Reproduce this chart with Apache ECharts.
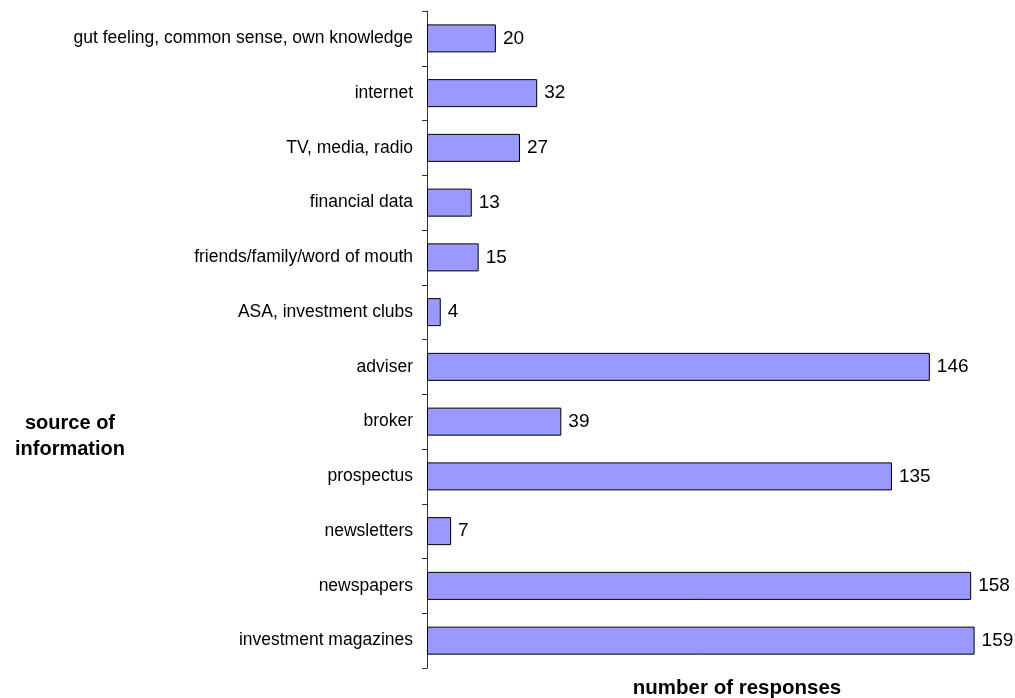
<!DOCTYPE html>
<html>
<head>
<meta charset="utf-8">
<script src="https://cdn.jsdelivr.net/npm/echarts@6/dist/echarts.min.js"></script>
<style>
html,body{margin:0;padding:0;background:#fff;}
#chart{width:1015px;height:698px;}
</style>
</head>
<body>
<div id="chart"></div>
<script>
var categories = [
  "gut feeling, common sense, own knowledge",
  "internet",
  "TV, media, radio",
  "financial data",
  "friends/family/word of mouth",
  "ASA, investment clubs",
  "adviser",
  "broker",
  "prospectus",
  "newsletters",
  "newspapers",
  "investment magazines"
];
var responses = [20, 32, 27, 13, 15, 4, 146, 39, 135, 7, 158, 159];
var xAxisTitle = "number of responses";
var yAxisTitle = "source of\ninformation";

var FONT = "'Liberation Sans', Arial, sans-serif";
var chart = echarts.init(document.getElementById('chart'), null, {renderer: 'canvas'});
chart.setOption({
  animation: false,
  backgroundColor: '#ffffff',
  grid: {left: 427, top: 11, width: 585.5, height: 657, containLabel: false, outerBoundsMode: 'none'},
  xAxis: {
    type: 'value', min: 0, max: 170,
    axisLine: {show: false}, axisTick: {show: false}, axisLabel: {show: false}, splitLine: {show: false}
  },
  yAxis: {
    type: 'category', data: categories, inverse: true,
    axisLine: {show: true, lineStyle: {color: '#333', width: 1}},
    axisTick: {show: true, inside: false, length: 5, lineStyle: {color: '#333'}},
    axisLabel: {fontFamily: FONT, fontSize: 17.5, color: '#000', margin: 14}
  },
  graphic: [{
    type: 'text', x: 70, y: 436,
    style: {text: yAxisTitle, font: 'bold 20px ' + FONT, fill: '#000', textAlign: 'center', textVerticalAlign: 'middle', lineHeight: 26}
  }, {
    type: 'text', x: 737, y: 688,
    style: {text: xAxisTitle, font: 'bold 20.5px ' + FONT, fill: '#000', textAlign: 'center', textVerticalAlign: 'middle'}
  }],
  series: [{
    type: 'bar', data: responses, barWidth: 28,
    itemStyle: {color: '#9999FF', borderColor: '#000', borderWidth: 1},
    label: {show: true, position: 'right', distance: 7, fontFamily: FONT, fontSize: 19, color: '#000'}
  }]
});
</script>
</body>
</html>
